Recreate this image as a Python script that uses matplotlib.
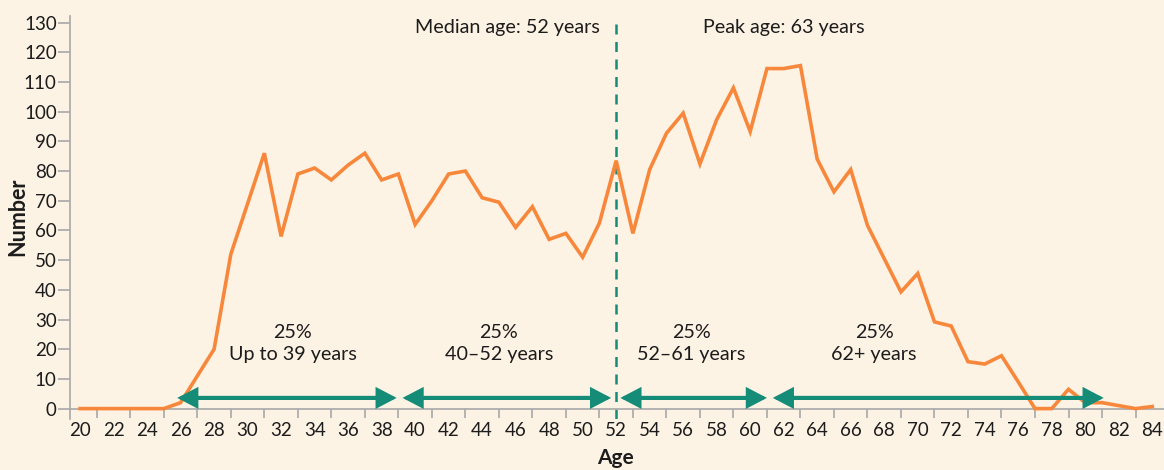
import numpy as np
import matplotlib.pyplot as plt

# age distribution
ages = list(range(20, 85))
counts = [0, 0, 0, 0, 0, 0, 2, 11, 20, 52, 69, 86, 58, 79, 81, 77,
          82, 86, 77, 79, 62, 70, 79, 80, 71, 69.5, 61, 68, 57, 59,
          51, 62.5, 83.5, 59, 80.5, 92.7, 99.5, 82.4, 97.3, 108, 93.3,
          114.5, 114.5, 115.5, 84, 73, 80.5, 61.7, 50.5, 39.3, 45.5,
          29.2, 27.8, 15.8, 15, 17.8, 9, 0, 0, 6.5, 2, 2, 1, 0, 0.7]

quartile_labels = ['25%\nUp to 39 years', '25%\n40\u201352 years',
                   '25%\n52\u201361 years', '25%\n62+ years']
quartile_label_x = [32.7, 45.0, 56.5, 67.4]
arrow_spans = [(25.8, 38.9), (39.25, 51.7), (52.25, 61.0), (61.35, 81.1)]
median_age = 52
peak_age = 63

bg = '#fdf3e5'
orange = '#f7883b'
green = '#148c77'
grey = '#a8a8a8'
txt = '#1c1c1c'

plt.rcParams['font.family'] = ['Lato', 'DejaVu Sans']

fig = plt.figure(figsize=(11.64, 4.70), dpi=100, facecolor=bg)
ax = fig.add_axes([70/1164, 1-419/470, 1-70/1164, (419-15.7)/470])
ax.set_facecolor(bg)

ax.plot(ages, counts, color=orange, lw=2.6, solid_joinstyle='miter', zorder=3)

# median line
ax.vlines(median_age, -3.4, 130.5, colors=green, lw=1.8,
          linestyles=(0, (4, 3)), zorder=2)
ax.text(51.05, 128.2, 'Median age: %d years' % median_age, ha='right',
        va='center', fontsize=14.2, color=txt)
ax.text(62.0, 128.2, 'Peak age: %d years' % peak_age, ha='center',
        va='center', fontsize=14.2, color=txt)

# quartile arrows
for (a, b) in arrow_spans:
    ax.annotate('', xy=(b, 3.6), xytext=(a, 3.6),
                arrowprops=dict(arrowstyle='<|-|>,head_length=1.05,head_width=0.55',
                                color=green, lw=3.0, shrinkA=0, shrinkB=0,
                                joinstyle='miter'),
                zorder=4)
for lab, x in zip(quartile_labels, quartile_label_x):
    ax.text(x, 22, lab, ha='center', va='center', fontsize=14.2,
            color=txt, linespacing=1.35)

ax.set_xlim(19.4, 84.7)
ax.set_ylim(-3.5, 132.3)
for s in ['top', 'right']:
    ax.spines[s].set_visible(False)
ax.spines['bottom'].set_position(('data', 0))
ax.spines['left'].set_color(grey)
ax.spines['bottom'].set_color(grey)
ax.spines['left'].set_linewidth(1.2)
ax.spines['bottom'].set_linewidth(1.2)

ax.set_xticks(range(20, 85, 2))
ax.set_xticks(range(21, 85, 2), minor=True)
ax.tick_params(axis='x', which='major', length=0, pad=10, labelsize=13.5,
               labelcolor=txt)
ax.tick_params(axis='x', which='minor', length=6.5, width=1.2, color=grey)
ax.set_yticks(range(0, 131, 10))
ax.tick_params(axis='y', length=8.5, width=1.2, color=grey, pad=1,
               labelsize=13.5, labelcolor=txt)

fig.text(615/1164, 1-458/470, 'Age', ha='center', va='center',
         fontsize=15, fontweight='bold', color=txt)
fig.text(18/1164, 1-217/470, 'Number', ha='center', va='center',
         rotation=90, fontsize=15.5, fontweight='bold', color=txt)

fig.savefig('out.png', dpi=100, facecolor=bg)
